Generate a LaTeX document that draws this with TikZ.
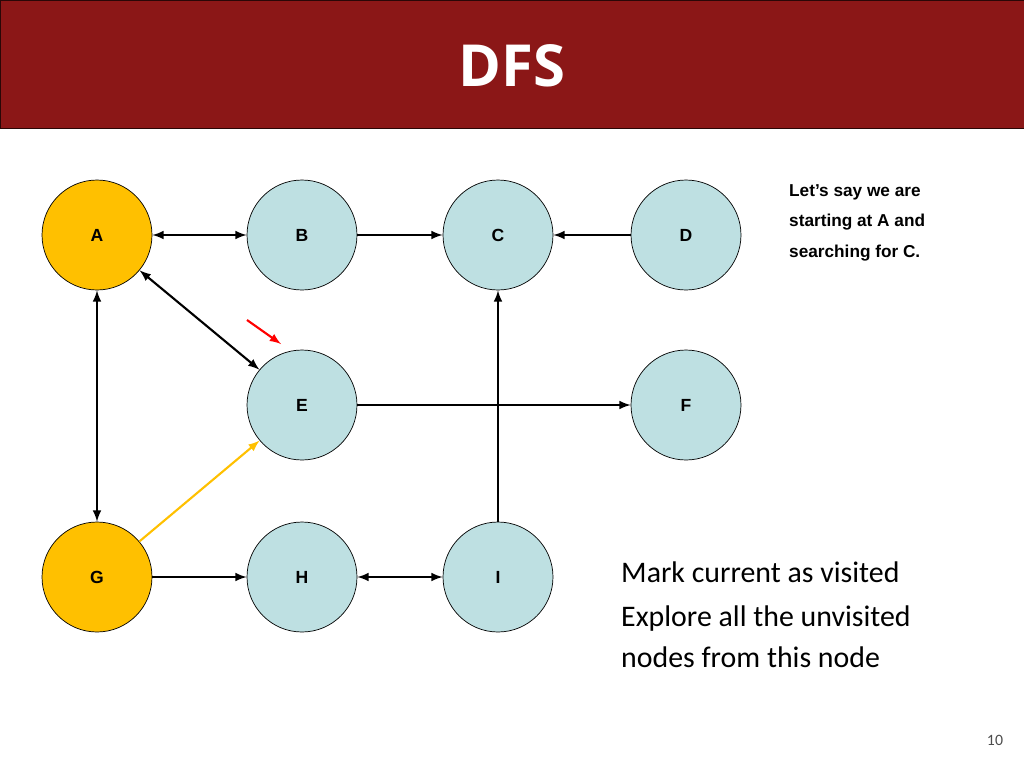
\documentclass[tikz,border=0pt]{standalone}
\usepackage{fontspec}
\setmainfont{Liberation Sans}
\newfontfamily\bodyfont{Carlito}
\newfontfamily\titlefont{Open Sans}
\definecolor{hdred}{HTML}{8B1717}
\definecolor{visited}{HTML}{FFC000}
\definecolor{fresh}{HTML}{BEE0E2}
\tikzset{every picture/.style={x=0.02cm,y=-0.02cm}}
\tikzset{vertex/.style={circle, draw=black, fill=fresh, minimum size=2.2cm, font=\bfseries\fontsize{10}{12}\selectfont},
  done/.style={vertex, fill=visited},
  edge/.style={very thick, -latex},
  both/.style={very thick, latex-latex}}

\begin{document}
\begin{tikzpicture}
    \useasboundingbox (0,0) rectangle (1024,768);
    % header
    \fill[hdred, draw=black!70!hdred] (0,0) rectangle (1024,128);
    \node[text=white, font=\titlefont\bfseries\fontsize{33}{36}\selectfont] (title) at (512,66) {DFS};
    % vertices
    \node[done] (A) at (97,235) {A};
    \node[vertex] (B) at (302,235) {B};
    \node[vertex] (C) at (498,235) {C};
    \node[vertex] (D) at (686,235) {D};
    \node[vertex] (E) at (302,405) {E};
    \node[vertex] (F) at (686,405) {F};
    \node[done] (G) at (97,577) {G};
    \node[vertex] (H) at (302,577) {H};
    \node[vertex] (I) at (498,577) {I};
    % edges
    \draw[both] (A) -- (B);
    \draw[edge] (B) -- (C);
    \draw[edge] (D) -- (C);
    \draw[both] (A) -- (E);
    \draw[both] (A) -- (G);
    \draw[edge] (E) -- (F);
    \draw[edge] (I) -- (C);
    \draw[edge] (G) -- (H);
    \draw[both] (H) -- (I);
    \draw[edge, visited] (G) -- (E);
    % pointer
    \coordinate (p1) at (247,320);
    \coordinate (p2) at (281,344);
    \draw[edge, red] (p1) -- (p2);
    % notes
    \node[anchor=north west, align=left, font=\bfseries\fontsize{9.8}{17.5}\selectfont] (note) at (783,178)
      {Let’s say we are\\starting at A and\\searching for C.};
    \node[anchor=west, font=\bodyfont\fontsize{17}{20}\selectfont] (step1) at (615,572) {Mark current as visited};
    \node[anchor=north west, align=left, font=\bodyfont\fontsize{17}{23}\selectfont] (step2) at (615,600)
      {Explore all the unvisited\\nodes from this node};
    \node[text=black!70, font=\bodyfont\fontsize{9}{10}\selectfont] (page) at (995,740) {10};
\end{tikzpicture}
\end{document}
